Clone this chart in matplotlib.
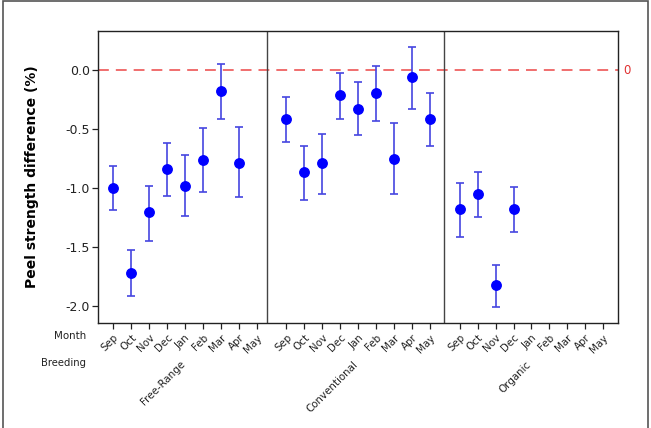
import numpy as np
import matplotlib
matplotlib.use('Agg')
import matplotlib.pyplot as plt
from matplotlib.patches import Rectangle
from matplotlib.transforms import blended_transform_factory, ScaledTranslation

nan = np.nan

months = ['Sep', 'Oct', 'Nov', 'Dec', 'Jan', 'Feb', 'Mar', 'Apr', 'May']
breeds = ['Free-Range', 'Conventional', 'Organic']

free_mean = [-1.00, -1.72, -1.20, -0.84, -0.98, -0.76, -0.175, -0.79, nan]
free_low = [-1.19, -1.92, -1.45, -1.07, -1.24, -1.03, -0.41, -1.08, nan]
free_high = [-0.81, -1.53, -0.98, -0.62, -0.72, -0.49, 0.05, -0.48, nan]

conv_mean = [-0.41, -0.86, -0.79, -0.21, -0.33, -0.195, -0.75, -0.06, -0.41]
conv_low = [-0.61, -1.10, -1.05, -0.41, -0.55, -0.43, -1.05, -0.33, -0.64]
conv_high = [-0.23, -0.64, -0.54, -0.025, -0.10, 0.04, -0.45, 0.20, -0.19]

org_mean = [-1.18, -1.05, -1.82, -1.175, nan, nan, nan, nan, nan]
org_low = [-1.42, -1.25, -2.01, -1.37, nan, nan, nan, nan, nan]
org_high = [-0.96, -0.86, -1.65, -0.99, nan, nan, nan, nan, nan]

means = [free_mean, conv_mean, org_mean]
lows = [free_low, conv_low, org_low]
highs = [free_high, conv_high, org_high]

group_step = 9.65

fig = plt.figure(figsize=(6.51, 4.28), dpi=100)
ax = fig.add_axes([0.1505, 0.246, 0.7988, 0.6816])

# outer frame
fig.patches.append(Rectangle((3 / 651, -0.01), 645 / 651, 1.0 - 1 / 428 + 0.01,
                             transform=fig.transFigure, fill=False,
                             edgecolor='#555555', linewidth=1.2))

# reference line at zero
ax.axhline(0, color='#ee5555', linewidth=1.2, linestyle=(0, (6.5, 4.2)), zorder=1)
ax.text(1.01, 0, '0', color='#e03030', fontsize=8.5, va='center', ha='left',
        transform=blended_transform_factory(ax.transAxes, ax.transData))

tick_pos = []
tick_lab = []
for g in range(len(breeds)):
    x = np.arange(len(months)) + g * group_step
    m = np.array(means[g])
    lo = m - np.array(lows[g])
    hi = np.array(highs[g]) - m
    ax.errorbar(x, m, yerr=[lo, hi], fmt='none', ecolor='#4646e0',
                elinewidth=1.2, capsize=3.2, capthick=1.2, zorder=2)
    ax.plot(x, m, 'o', color='#0000ff', markersize=6.8, linestyle='none', zorder=3)
    tick_pos += list(x)
    tick_lab += months

# panel dividers
for d in [8.55, 18.42]:
    ax.axvline(d, color='#444444', linewidth=1.0, zorder=1)

ax.set_xlim(-0.85, 28.12)
ax.set_ylim(-2.144, 0.334)
ax.set_yticks([0.0, -0.5, -1.0, -1.5, -2.0])
ax.set_yticklabels(['0.0', '-0.5', '-1.0', '-1.5', '-2.0'], fontsize=9)
ax.set_xticks(tick_pos)
ax.set_xticklabels(tick_lab, fontsize=7.4, rotation=45, ha='right',
                   rotation_mode='anchor')
shift = ScaledTranslation(-3 / 100, 0, fig.dpi_scale_trans)
for lab in ax.get_xticklabels():
    lab.set_transform(lab.get_transform() + shift)
ax.tick_params(axis='x', length=4, width=0.9, pad=3, colors='#222222')
ax.tick_params(axis='y', length=4, width=0.9, pad=2, colors='#222222')
for s in ax.spines.values():
    s.set_color('#222222')
    s.set_linewidth(1.0)

ax.set_ylabel('Peel strength difference (%)', fontsize=10, fontweight='bold',
              labelpad=19)

trans = blended_transform_factory(ax.transData, ax.transAxes)
for g, name in enumerate(breeds):
    cx = g * group_step + 4 - 0.3
    ax.text(cx, -0.125, name, fontsize=7.4, rotation=45, ha='right', va='top',
            rotation_mode='anchor', transform=trans, color='#222222')

fig.text(86 / 651, 1 - 336 / 428, 'Month', fontsize=7.4, ha='right', va='center',
         color='#222222')
fig.text(86 / 651, 1 - 363 / 428, 'Breeding', fontsize=7.2, ha='right', va='center',
         color='#222222')

fig.savefig('out.png', dpi=100)
